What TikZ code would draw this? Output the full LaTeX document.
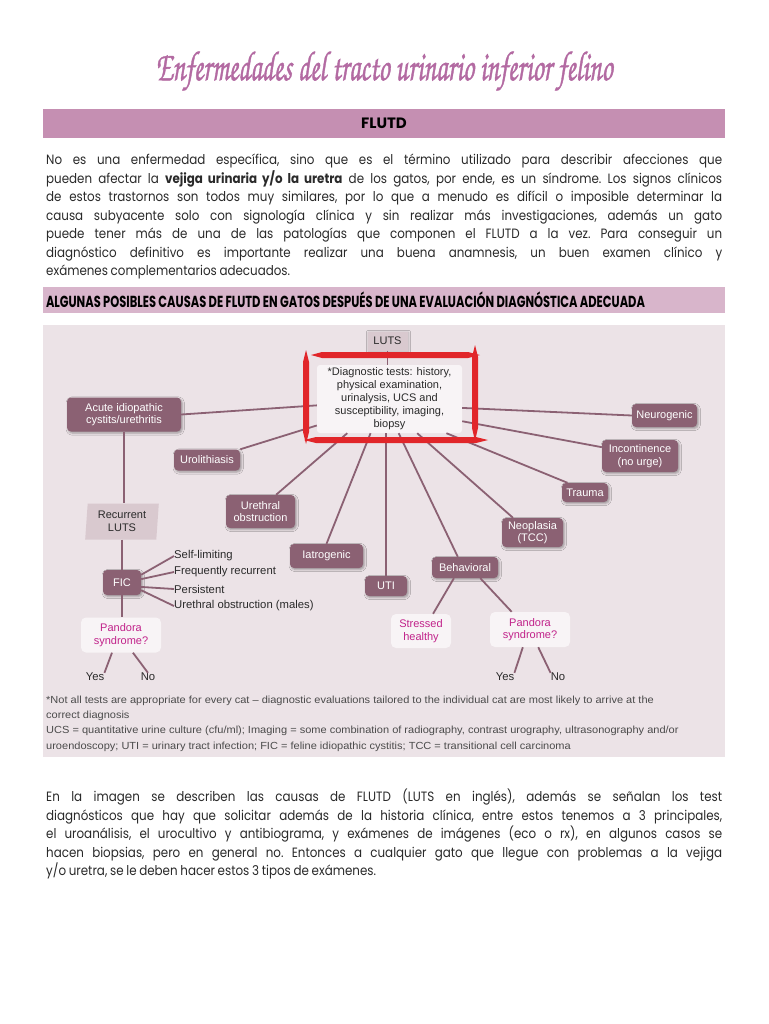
\documentclass[tikz,border=0pt]{standalone}
\usepackage{fontspec}
\usepackage{graphicx}
\usepackage{tikz}
\usetikzlibrary{shapes.geometric,shadows.blur}
\setmainfont{Poppins}[FakeStretch=0.88,WordSpace={0.85,1.2,1}]
\newfontfamily\headfont{Poppins}
\newfontfamily\diagfont{Liberation Sans}
\newfontfamily\notefont{Liberation Sans}[FakeStretch=1.07]
\newfontfamily\titlefont{texgyrechorus-mediumitalic.otf}[FakeBold=1.3]
\definecolor{fltitle}{HTML}{B36AA2}
\definecolor{flbar}{HTML}{C58FB2}
\definecolor{flbarlight}{HTML}{D8B5CB}
\definecolor{flpanel}{HTML}{ECE3E7}
\definecolor{flnode}{HTML}{8B6173}
\definecolor{flline}{HTML}{8B6173}
\definecolor{flpale}{HTML}{D9C9CF}
\definecolor{flsoft}{HTML}{F8F4F6}
\definecolor{flpink}{HTML}{C1228A}
\definecolor{flink}{HTML}{2A2A2A}
\definecolor{flnote}{HTML}{4B4B4B}
\definecolor{flred}{HTML}{E1262A}
\newcommand{\flpar}{\frenchspacing\hyphenpenalty=10000 \tolerance=9999 \relax}

\begin{document}
\begin{tikzpicture}[
  x=1pt,y=-1pt,
  every node/.style={inner sep=0pt,align=center},
  cause/.style={fill=flnode,text=white,rounded corners=4pt,
    font=\diagfont\fontsize{11}{12.5}\selectfont,
    blur shadow={shadow xshift=1.2pt,shadow yshift=-1.5pt,shadow blur steps=4,shadow opacity=35}},
  pale/.style={fill=flpale,text=flink,font=\diagfont\fontsize{11}{12.5}\selectfont},
  soft/.style={fill=flsoft,text=flpink,rounded corners=5pt,font=\diagfont\fontsize{11}{12.5}\selectfont},
  tag/.style={text=flink,font=\diagfont\fontsize{11.3}{12}\selectfont},
  link/.style={draw=flline,line width=1.8pt},
  marker/.style={fill=flred},
  para/.style={anchor=north west,text width=676pt,align=justify,text=flink,
    font=\fontsize{13.5}{18.5}\selectfont}
]
\useasboundingbox (0,0) rectangle (768,1024);
\fill[white] (0,0) rectangle (768,1024);

% heading and bars
\node[text=fltitle] (title) at (384,71)
  {\resizebox{457pt}{\height}{\titlefont\fontsize{42}{44}\selectfont Enfermedades del tracto urinario inferior felino}};
\node[fill=flbar,minimum width=682,minimum height=29] (flutd) at (384,123.5)
  {\headfont\fontsize{15}{16}\selectfont\bfseries FLUTD};
\node[para] (intro) at (46,154) {\flpar
No es una enfermedad específica, sino que es el término utilizado para describir afecciones que\linebreak
pueden afectar la \textbf{vejiga urinaria y/o la uretra} de los gatos, por ende, es un síndrome. Los signos clínicos\linebreak
de estos trastornos son todos muy similares, por lo que a menudo es difícil o imposible determinar la\linebreak
causa subyacente solo con signología clínica y sin realizar más investigaciones, además un gato\linebreak
puede tener más de una de las patologías que componen el FLUTD a la vez. Para conseguir un\linebreak
diagnóstico definitivo es importante realizar una buena anamnesis, un buen examen clínico y\linebreak
exámenes complementarios adecuados.};
\node[fill=flbarlight,minimum width=682,minimum height=26,text width=676pt,align=left] (causes) at (384,300)
  {\resizebox{599pt}{\height}{\headfont\fontsize{16}{17}\selectfont\bfseries ALGUNAS POSIBLES CAUSAS DE FLUTD EN GATOS DESPUÉS DE UNA EVALUACIÓN DIAGNÓSTICA ADECUADA}};

% diagram panel
\node[fill=flpanel,minimum width=682,minimum height=432] (panel) at (384,541) {};

\node[pale,minimum width=40,minimum height=19,
  blur shadow={shadow xshift=1pt,shadow yshift=-1pt,shadow blur steps=3,shadow opacity=25}] (luts) at (387.5,341) {LUTS};
\node[fill=flsoft,text=flink,rounded corners=3pt,minimum width=145,minimum height=68,
  font=\diagfont\fontsize{11}{13}\selectfont] (diag) at (389.5,399)
  {*Diagnostic tests: history,\\physical examination,\\urinalysis, UCS and\\susceptibility, imaging,\\biopsy};

\node[cause,minimum width=114,minimum height=34] (acute) at (124,414.5) {Acute idiopathic\\cystits/urethritis};
\node[cause,minimum width=66,minimum height=21] (uro) at (207,460) {Urolithiasis};
\node[cause,minimum width=69,minimum height=33] (ureo) at (260.5,511.5) {Urethral\\obstruction};
\node[cause,minimum width=73,minimum height=24] (iat) at (326.5,556) {Iatrogenic};
\node[cause,minimum width=42,minimum height=20] (uti) at (386,586) {UTI};
\node[cause,minimum width=66,minimum height=21] (beh) at (465,567.5) {Behavioral};
\node[cause,minimum width=61,minimum height=29] (neo) at (532.5,532.5) {Neoplasia\\(TCC)};
\node[cause,minimum width=46,minimum height=19] (trauma) at (585,492.5) {Trauma};
\node[cause,minimum width=76,minimum height=32] (inc) at (640,456) {Incontinence\\(no urge)};
\node[cause,minimum width=65,minimum height=23] (neu) at (664.5,415.5) {Neurogenic};

\node[pale,shape=trapezium,trapezium left angle=85,trapezium right angle=95,trapezium stretches=true,
  minimum width=74,minimum height=36] (rec) at (122,521.5) {Recurrent\\LUTS};
\node[cause,minimum width=38,minimum height=25] (fic) at (122,582.5) {FIC};
\node[tag,anchor=west] (sl) at (174,556) {Self-limiting};
\node[tag,anchor=west] (fr) at (174,572) {Frequently recurrent};
\node[tag,anchor=west] (pe) at (174,589) {Persistent};
\node[tag,anchor=west] (uo) at (174,606) {Urethral obstruction (males)};
\node[soft,minimum width=80,minimum height=35] (pan1) at (121,635) {Pandora\\syndrome?};
\node[tag] (yes1) at (95,677) {Yes};
\node[tag] (no1) at (148,677) {No};

\node[soft,minimum width=60,minimum height=34] (str) at (421,631) {Stressed\\healthy};
\node[soft,minimum width=80,minimum height=35] (pan2) at (530,629.5) {Pandora\\syndrome?};
\node[tag] (yes2) at (505,677) {Yes};
\node[tag] (no2) at (558,677) {No};

% connectors
\draw[link] (luts.south) -- (luts.south |- diag.north);
\draw[link] (acute.east) -- (diag.185);
\draw[link] (uro.north east) -- (diag.200);
\draw[link] (ureo.47) -- (diag.219);
\draw[link] (iat.north) -- (diag.241);
\draw[link] (uti.north) -- (uti.north |- diag.south);
\draw[link] (beh.124) -- (diag.285);
\draw[link] (neo.143) -- (diag.309);
\draw[link] (trauma.151) -- (diag.329);
\draw[link] (inc.167) -- (diag.343);
\draw[link] (neu.west) -- (diag.353);
\draw[link] (acute.south) -- (acute.south |- rec.north);
\draw[link] (rec.south) -- (rec.south |- fic.north);
\draw[link] (fic.south) -- (fic.south |- pan1.north);
\draw[link] (fic.22) -- (sl.west);
\draw[link] (fic.10) -- (fr.west);
\draw[link] (fic.-13) -- (pe.west);
\draw[link] (fic.-22) -- (uo.west);
\draw[link] (pan1.243) -- (yes1.north east);
\draw[link] (pan1.304) -- (no1.north);
\draw[link] (beh.224) -- (str.55);
\draw[link] (beh.325) -- (pan2.136);
\draw[link] (pan2.248) -- (yes2.north east);
\draw[link] (pan2.295) -- (no2.north west);

% red marker frame
\fill[marker] (311,355) -- (322,352) -- (468,352) -- (480,355) -- (468,358) -- (322,358) -- cycle;
\fill[marker] (304,440) -- (316,437) -- (476,437) -- (488,440) -- (476,443) -- (316,443) -- cycle;
\fill[marker] (306,350) -- (303,362) -- (303,432) -- (306,444) -- (309,432) -- (309,362) -- cycle;
\fill[marker] (475,345) -- (472,357) -- (472,428) -- (475,441) -- (478,428) -- (478,357) -- cycle;

\node[anchor=north west,align=left,text=flnote,font=\notefont\fontsize{10.3}{15.4}\selectfont] (note) at (46,695.5)
  {*Not all tests are appropriate for every cat – diagnostic evaluations tailored to the individual cat are most likely to arrive at the\\
   correct diagnosis\\
   UCS = quantitative urine culture (cfu/ml); Imaging = some combination of radiography, contrast urography, ultrasonography and/or\\
   uroendoscopy; UTI = urinary tract infection; FIC = feline idiopathic cystitis; TCC = transitional cell carcinoma};

\node[para] (closing) at (46,789) {\flpar
En la imagen se describen las causas de FLUTD (LUTS en inglés), además se señalan los test\linebreak
diagnósticos que hay que solicitar además de la historia clínica, entre estos tenemos a 3 principales,\linebreak
el uroanálisis, el urocultivo y antibiograma, y exámenes de imágenes (eco o rx), en algunos casos se\linebreak
hacen biopsias, pero en general no. Entonces a cualquier gato que llegue con problemas a la vejiga\linebreak
y/o uretra, se le deben hacer estos 3 tipos de exámenes.};
\end{tikzpicture}
\end{document}
